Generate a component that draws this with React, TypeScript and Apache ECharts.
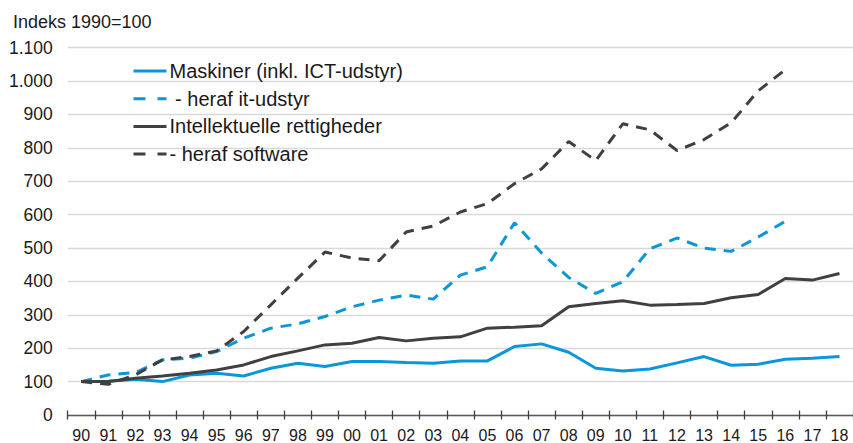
import React, { useEffect, useRef } from "react";
import * as echarts from "echarts";

const years = ["90","91","92","93","94","95","96","97","98","99","00","01","02","03","04","05","06","07","08","09","10","11","12","13","14","15","16","17","18"];
const maskiner = [100,101,107,100,120,125,117,140,155,145,160,160,157,155,162,162,205,213,188,140,132,138,156,175,149,152,167,170,175];
const itUdstyr = [100,120,127,165,170,190,230,260,273,295,324,344,359,347,419,444,576,485,412,364,399,498,530,500,490,533,580,null,null];
const intellektuelle = [100,100,110,117,125,135,150,175,192,210,215,232,222,230,234,260,263,267,324,334,342,329,331,334,351,361,409,404,424];
const software = [100,92,120,165,175,192,250,330,410,488,470,462,548,566,608,633,693,737,819,762,872,854,792,825,875,971,1034,null,null];
const seriesNames = ["Maskiner (inkl. ICT-udstyr)", " - heraf it-udstyr", "Intellektuelle rettigheder", "- heraf software"];
const yTitle = "Indeks 1990=100";

const BLUE = "#0a97d9";
const DARK = "#404040";

export default function App() {
  const ref = useRef<HTMLDivElement>(null);
  useEffect(() => {
    if (!ref.current) return;
    const chart = echarts.init(ref.current, undefined, { renderer: "svg" });
    const font = "Liberation Sans, Arial, sans-serif";
    const mk = (name: string, data: any[], color: string, dashed: boolean) => ({
      name,
      type: "line",
      data,
      xAxisIndex: 0,
      symbol: "none",
      showSymbol: false,
      connectNulls: false,
      lineStyle: { color, width: 3, type: dashed ? [11, 8] : "solid", cap: "butt" },
      itemStyle: { color },
      z: 3,
    });
    const dashedFlags = [false, true, false, true];
    chart.setOption({
      animation: false,
      textStyle: { fontFamily: font },
      grid: { left: 67.7, right: -5, top: 47.7, bottom: 25.7, containLabel: false },
      legend: {
        orient: "vertical",
        left: 132,
        top: 61,
        padding: 0,
        itemWidth: 33,
        itemHeight: 14,
        itemGap: 7.7,
        itemStyle: { opacity: 0, borderWidth: 0 },
        lineStyle: { width: 3 },
        textStyle: { fontSize: 20, color: "#1a1a1a", fontFamily: font, lineHeight: 20, padding: [0, 0, 0, -2] },
        data: seriesNames.map((name, i) => ({
          name,
          lineStyle: { width: 3, type: dashedFlags[i] ? [12, 12] : "solid", cap: "butt" },
        })),
      },
      graphic: [
        {
          type: "text",
          left: 13,
          top: 13,
          style: { text: yTitle, fontSize: 18, fill: "#1a1a1a", fontFamily: font },
        },
      ],
      xAxis: [
        {
          type: "category",
          data: years,
          boundaryGap: true,
          position: "bottom",
          axisLine: { show: true, lineStyle: { color: "#595959", width: 1.3 } },
          axisTick: { show: true, length: 4.5, lineStyle: { color: "#404040", width: 1.3 } },
          axisLabel: { fontSize: 16, color: "#1a1a1a", margin: 12, interval: 0, fontFamily: font },
          splitLine: { show: false },
        },
        {
          type: "category",
          data: years,
          boundaryGap: true,
          position: "bottom",
          gridIndex: 0,
          axisLine: { show: false },
          axisTick: { show: true, inside: true, length: 4.5, lineStyle: { color: "#404040", width: 1.3 } },
          axisLabel: { show: false },
          splitLine: { show: false },
        },
      ],
      yAxis: {
        type: "value",
        min: 0,
        max: 1100,
        interval: 100,
        axisLine: { show: false },
        axisTick: { show: false },
        axisLabel: {
          fontSize: 17.5,
          color: "#1a1a1a",
          margin: 15,
          fontFamily: font,
          formatter: (v: number) => (v >= 1000 ? Math.floor(v / 1000) + "." + String(v % 1000).padStart(3, "0") : String(v)),
        },
        splitLine: { show: true, lineStyle: { color: "#d9d9d9", width: 1.3 } },
      },
      series: [
        mk(seriesNames[0], maskiner, BLUE, false),
        mk(seriesNames[1], itUdstyr, BLUE, true),
        mk(seriesNames[2], intellektuelle, DARK, false),
        mk(seriesNames[3], software, DARK, true),
      ],
    });
    return () => chart.dispose();
  }, []);
  return <div ref={ref} style={{ position: "absolute", left: 0, top: 0, width: 853, height: 443 }} />;
}
